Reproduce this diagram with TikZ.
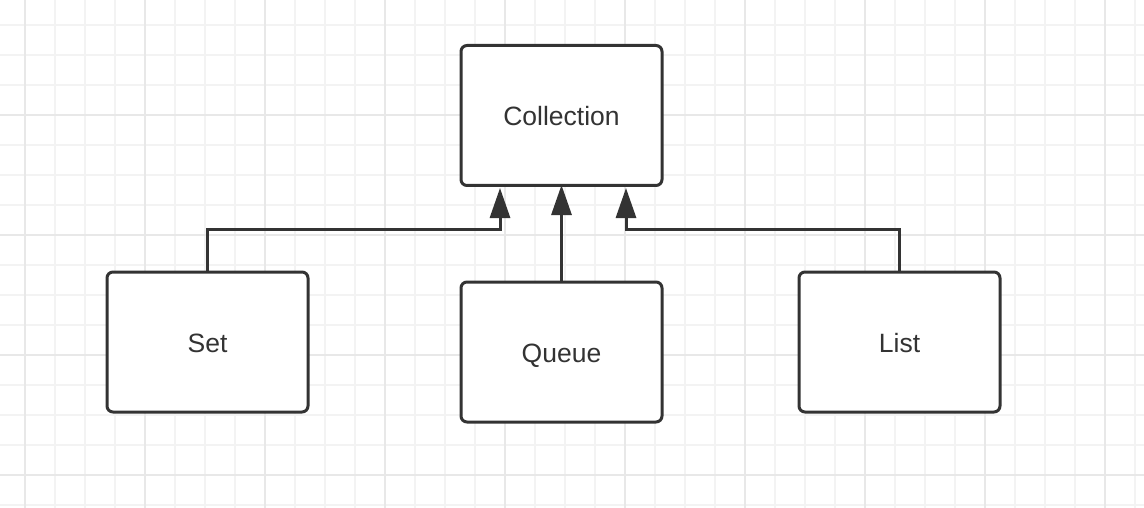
\documentclass[tikz,border=0pt]{standalone}
\usepackage{fontspec}
\setmainfont{Liberation Sans}
\usetikzlibrary{arrows.meta}
\definecolor{ink}{HTML}{333333}
\definecolor{minorgrid}{HTML}{F3F3F3}
\definecolor{majorgrid}{HTML}{E8E8E8}
\begin{document}
\begin{tikzpicture}[x=1pt,y=-1pt,
  box/.style={draw=ink, line width=3pt, rounded corners=6pt, fill=white,
    minimum width=201pt, minimum height=140pt, inner sep=0pt,
    text height=20pt, text depth=0pt,
    font=\fontsize{26.5}{30}\selectfont, text=ink},
  conn/.style={draw=ink, line width=3pt, -{Triangle[length=30pt,width=20pt]}},
  minorline/.style={draw=minorgrid, line width=2pt},
  majorline/.style={draw=majorgrid, line width=2pt}]
\useasboundingbox (0,0) rectangle (1144,508);
\fill[white] (0,0) rectangle (1144,508);
\foreach \x in {25,55,...,1135} \draw[minorline] (\x,0) -- (\x,508);
\foreach \y in {25,55,...,505} \draw[minorline] (0,\y) -- (1144,\y);
\foreach \x in {25,145,...,1105} \draw[majorline] (\x,0) -- (\x,508);
\foreach \y in {115,235,355,475} \draw[majorline] (0,\y) -- (1144,\y);

\node[box] (coll) at (561.5,115.5) {Collection};
\node[box] (set) at (207.5,342) {Set};
\node[box] (queue) at (561.5,352) {Queue};
\node[box] (list) at (899.5,342) {List};

\coordinate (tipL) at (500,188);
\coordinate (tipR) at (626,188);
\coordinate (barL) at (207.5,229);
\coordinate (barR) at (899.5,229);

\draw[conn] (set.north) -- (barL) -| (tipL);
\draw[conn] (queue.north) -- ([yshift=2pt]coll.south);
\draw[conn] (list.north) -- (barR) -| (tipR);
\end{tikzpicture}
\end{document}
